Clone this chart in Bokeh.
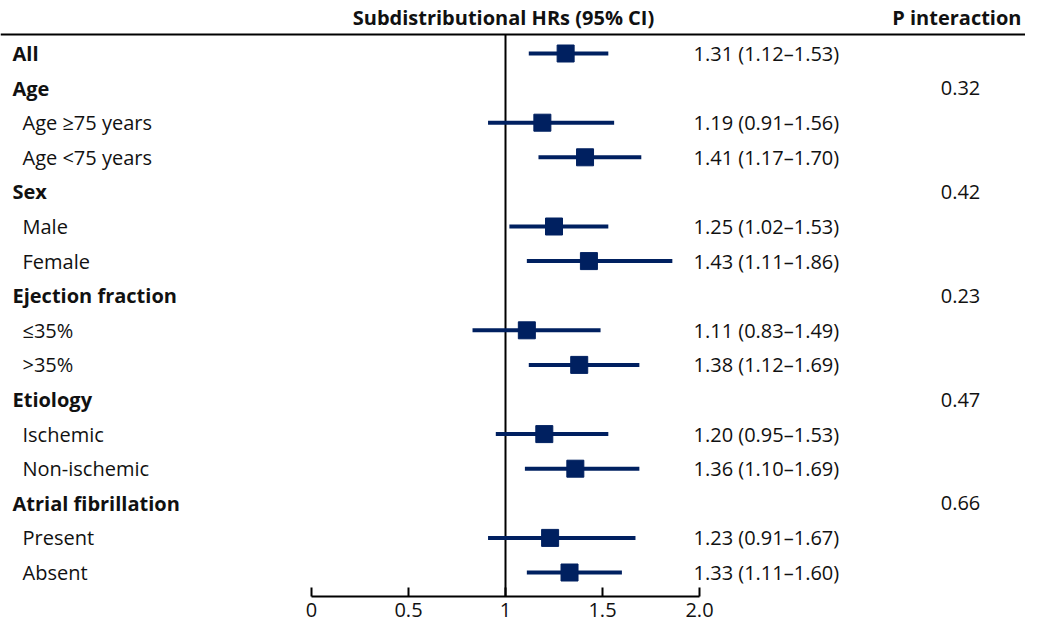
from bokeh.plotting import figure
from bokeh.models import Range1d, FixedTicker, ColumnDataSource, Span
from bokeh.core.properties import value
from bokeh.embed import file_html
from bokeh.resources import INLINE

# ---- data ----
row_labels = ["All", "Age", "Age \u226575 years", "Age <75 years", "Sex", "Male", "Female",
              "Ejection fraction", "\u226435%", ">35%", "Etiology", "Ischemic", "Non-ischemic",
              "Atrial fibrillation", "Present", "Absent"]
row_is_header = [True, True, False, False, True, False, False,
                 True, False, False, True, False, False, True, False, False]
hr = [1.31, None, 1.19, 1.41, None, 1.25, 1.43, None, 1.11, 1.38, None, 1.20, 1.36, None, 1.23, 1.33]
ci_low = [1.12, None, 0.91, 1.17, None, 1.02, 1.11, None, 0.83, 1.12, None, 0.95, 1.10, None, 0.91, 1.11]
ci_high = [1.53, None, 1.56, 1.70, None, 1.53, 1.86, None, 1.49, 1.69, None, 1.53, 1.69, None, 1.67, 1.60]
p_interaction = [None, "0.32", None, None, "0.42", None, None, "0.23", None, None, "0.47",
                 None, None, "0.66", None, None]
tick_values = [0, 0.5, 1, 1.5, 2]
tick_labels = ["0", "0.5", "1", "1.5", "2.0"]
header_hr = "Subdistributional HRs (95% CI)"
header_p = "P interaction"

# ---- layout constants (figure pixels) ----
W, H = 1025, 626
PX_PER_UNIT = 194.0
X0_PX = 311.0                   # pixel of HR = 0
ROW0 = 53.0                     # first row centre
ROW_STEP = 34.6
FRAME_BOTTOM = 596              # frame height in px

def xd(px):
    return (px - X0_PX) / PX_PER_UNIT

def yd(px):
    return (px - ROW0) / ROW_STEP

FONT = value("Open Sans")
FS = "20px"
NAVY = "#002060"
TXT = "#111111"

p = figure(width=W, height=H, output_backend="svg", toolbar_location=None,
           x_range=Range1d(xd(0), xd(W)), y_range=Range1d(yd(FRAME_BOTTOM), yd(0)),
           y_axis_location=None, min_border_left=0, min_border_right=0,
           min_border_top=0, min_border_bottom=H - FRAME_BOTTOM)
p.outline_line_color = None
p.grid.visible = False
p.background_fill_color = "white"
p.border_fill_color = "white"

# header rule and reference line
hline_y = yd(34)
p.add_layout(Span(location=hline_y, dimension="width", line_color="black", line_width=2))
p.segment(x0=[1], x1=[1], y0=[hline_y], y1=[yd(FRAME_BOTTOM)], line_color="black", line_width=2)

# estimates
idx = [i for i, v in enumerate(hr) if v is not None]
est = ColumnDataSource(dict(
    y=idx, hr=[hr[i] for i in idx], lo=[ci_low[i] for i in idx], hi=[ci_high[i] for i in idx],
    txt=["%.2f (%.2f\u2013%.2f)" % (hr[i], ci_low[i], ci_high[i]) for i in idx],
))
p.segment(x0="lo", x1="hi", y0="y", y1="y", source=est, line_color=NAVY, line_width=4)
p.scatter(x="hr", y="y", source=est, marker="square", size=17, fill_color=NAVY, line_color=NAVY)
p.text(x=xd(693), y="y", text="txt", source=est, text_font=FONT, text_font_size=FS,
       text_baseline="middle", text_align="left", text_color=TXT)

# row labels
hdr_i = [i for i in range(len(row_labels)) if row_is_header[i]]
sub_i = [i for i in range(len(row_labels)) if not row_is_header[i]]
p.text(x=xd(12), y=hdr_i, text=[row_labels[i] for i in hdr_i], text_font=FONT,
       text_font_style="bold", text_font_size=FS, text_baseline="middle", text_color=TXT)
p.text(x=xd(22), y=sub_i, text=[row_labels[i] for i in sub_i], text_font=FONT,
       text_font_size=FS, text_baseline="middle", text_color=TXT)

# p interaction
pi = [i for i, v in enumerate(p_interaction) if v is not None]
p.text(x=xd(960), y=pi, text=[p_interaction[i] for i in pi], text_font=FONT,
       text_font_size=FS, text_baseline="middle", text_align="center", text_color=TXT)

# column headers
p.text(x=[xd(503)], y=[yd(17)], text=[header_hr], text_font=FONT, text_font_style="bold",
       text_font_size=FS, text_baseline="middle", text_align="center", text_color=TXT)
p.text(x=[xd(1021)], y=[yd(17)], text=[header_p], text_font=FONT, text_font_style="bold",
       text_font_size=FS, text_baseline="middle", text_align="right", text_color=TXT)

# x axis
ax = p.xaxis[0]
ax.ticker = FixedTicker(ticks=tick_values)
ax.major_label_overrides = {v: l for v, l in zip(tick_values, tick_labels)}
ax.bounds = (0, 2)
ax.axis_line_width = 2
ax.axis_line_color = "black"
ax.major_tick_in = 9
ax.major_tick_out = 0
ax.major_tick_line_width = 2
ax.major_tick_line_color = "black"
ax.minor_tick_line_color = None
ax.major_label_text_font = "Open Sans"
ax.major_label_text_font_size = FS
ax.major_label_text_color = TXT
ax.major_label_standoff = 6
ax.axis_label_standoff = 0
ax.axis_label_text_font_size = "0px"

open("out.html", "w").write(file_html(p, INLINE))
